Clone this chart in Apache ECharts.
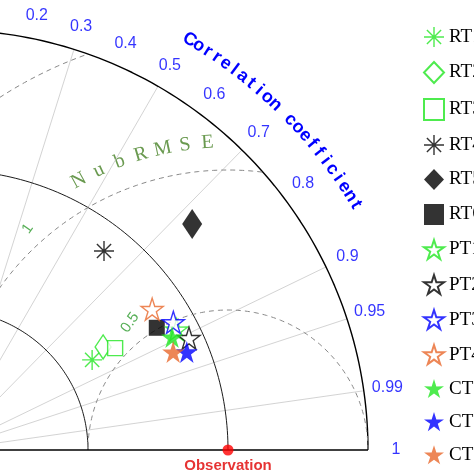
<!DOCTYPE html>
<html>
<head>
<meta charset="utf-8">
<title>Taylor diagram</title>
<script src="https://cdn.jsdelivr.net/npm/echarts@6/dist/echarts.min.js"></script>
<style>html,body{margin:0;padding:0;background:#fff}</style>
</head>
<body>
<div id="main" style="width:474px;height:474px;"></div>
<script type="text/javascript">
// model names (legend text, cut off at right edge in the source picture)
var names = ['RT1', 'RT2', 'RT3', 'RT4', 'RT5', 'RT6', 'PT1', 'PT2', 'PT3', 'PT4', 'CT1', 'CT2', 'CT3'];
// normalised standard deviation and correlation of each model
var stdDev = [0.607, 0.665, 0.699, 0.903, 1.188, 0.864, 0.923, 0.949, 0.925, 0.886, 0.896, 0.922, 0.877];
var corr   = [0.848, 0.833, 0.854, 0.617, 0.734, 0.863, 0.885, 0.907, 0.870, 0.823, 0.893, 0.925, 0.917];
var corrTicks = [0.2, 0.3, 0.4, 0.5, 0.6, 0.7, 0.8, 0.9, 0.95, 0.99, 1];
var corrLines = [0.1, 0.3, 0.5, 0.7, 0.9, 0.95, 0.99];
var stdArcs = [0.5, 1.0, 1.5];
var rmseArcs = [0.5, 1.0, 1.5];
var rmseLabels = ['0.5', '1'];

var star = 'path://M0,-10L2.23,-3.07L9.51,-3.09L3.61,1.17L5.88,8.09L0,3.8L-5.88,8.09L-3.61,1.17L-9.51,-3.09L-2.23,-3.07Z';
var aster = 'path://M-0.7,-10L0.7,-10L0.7,10L-0.7,10ZM-10,-0.7L10,-0.7L10,0.7L-10,0.7ZM-6.6,-7.6L7.6,6.6L6.6,7.6L-7.6,-6.6ZM6.6,-7.6L7.6,-6.6L-6.6,7.6L-7.6,6.6Z';
var green = '#22e622', blue = '#0000ff', orange = '#e8682c';
var styles = [
    [aster, green, true, 20], ['diamond', green, false, [16, 24]], ['rect', green, false, 15],
    [aster, '#000', true, 20], ['diamond', '#000', true, [20, 30]], ['rect', '#000', true, 16],
    [star, green, false, 22], [star, '#000', false, 22], [star, blue, false, 22], [star, orange, false, 22],
    [star, green, true, 22], [star, blue, true, 22], [star, orange, true, 22]
];

var myChart = echarts.init(document.getElementById('main'));
var series = [];

function polar(r, c) { return [r * c, r * Math.sqrt(1 - c * c)]; }

// radial correlation lines
corrLines.forEach(function (c) {
    series.push({type: 'line', silent: true, symbol: 'none', data: [[0, 0], polar(1.5, c)],
        lineStyle: {color: '#c8c8c8', width: 0.8}});
});
// std arcs
stdArcs.forEach(function (r) {
    var pts = [];
    for (var a = 0; a <= 90; a += 1) pts.push([r * Math.cos(a * Math.PI / 180), r * Math.sin(a * Math.PI / 180)]);
    series.push({type: 'line', silent: true, symbol: 'none', data: pts,
        lineStyle: {color: '#000', width: r === 1.5 ? 1.4 : 0.9}});
});
// centred RMSE arcs around observation (1,0)
rmseArcs.forEach(function (r) {
    var pts = [];
    for (var a = 0; a <= 180; a += 1) {
        var x = 1 + r * Math.cos(a * Math.PI / 180), y = r * Math.sin(a * Math.PI / 180);
        if (x * x + y * y <= 2.25 + 1e-6) pts.push([x, y]);
    }
    series.push({type: 'line', silent: true, symbol: 'none', data: pts,
        lineStyle: {color: '#888', width: 1, type: [5, 4]}});
});
// baseline
series.push({type: 'line', silent: true, symbol: 'none', data: [[0, 0], [1.5, 0]], lineStyle: {color: '#000', width: 1.4}});
// correlation tick labels
series.push({type: 'scatter', silent: true, symbolSize: 0,
    data: corrTicks.map(function (c) { var p = polar(c === 1 ? 1.6 : 1.585, c); return {value: p, name: String(c)}; }),
    label: {show: true, formatter: '{b}', color: blue, fontSize: 16, fontFamily: 'Arial', position: 'inside'}});
// RMSE labels
series.push({type: 'scatter', silent: true, symbolSize: 0,
    data: [{value: [0.65, 0.455], name: rmseLabels[0]}, {value: [0.285, 0.79], name: rmseLabels[1]}],
    label: {show: true, formatter: '{b}', color: '#2a9a2a', fontSize: 15, fontFamily: 'Arial', position: 'inside', rotate: 55}});
// observation
series.push({type: 'scatter', silent: true, symbolSize: 11, data: [[1, 0]], itemStyle: {color: '#ff0000'}, z: 5,
    label: {show: true, formatter: 'Observation', position: 'bottom', distance: 3, color: '#e00000', fontWeight: 'bold', fontSize: 15, fontFamily: 'Arial'}});
// models
names.forEach(function (n, i) {
    var s = styles[i];
    series.push({type: 'scatter', name: n, symbol: s[0], symbolSize: s[3], z: 4,
        data: [polar(stdDev[i], corr[i])],
        itemStyle: {color: s[2] ? s[1] : '#fff', borderColor: s[1], borderWidth: s[2] ? 0 : 1.4}});
});

var option = {
    animation: false,
    grid: {left: 0, top: 0, width: 474, height: 474},
    xAxis: {type: 'value', min: 52 / 280, max: 526 / 280, show: false},
    yAxis: {type: 'value', min: -24 / 280, max: 450 / 280, show: false},
    legend: {orient: 'vertical', left: 418, top: 22, itemGap: 14, itemWidth: 20, itemHeight: 21,
        data: names, textStyle: {fontFamily: 'Liberation Serif', fontSize: 19, color: '#000'}},
    series: series
};
myChart.setOption(option);

// curved texts
var graphics = [];
function arcText(str, r, a0, a1, color, font) {
    for (var i = 0; i < str.length; i++) {
        var a = (a0 + (a1 - a0) * i / (str.length - 1)) * Math.PI / 180;
        var p = myChart.convertToPixel({gridIndex: 0}, [r * Math.cos(a), r * Math.sin(a)]);
        graphics.push({type: 'text', x: p[0], y: p[1], rotation: a - Math.PI / 2,
            style: {text: str[i], fill: color, font: font, align: 'center', verticalAlign: 'middle'}});
    }
}
arcText('Correlation coefficient', 1.70, 59.5, 31, blue, 'bold 18px Arial');
// NubRMSE along the 1.0 RMSE arc (centred at observation)
(function () {
    var str = 'NubRMSE';
    for (var i = 0; i < str.length; i++) {
        var t = (119 - i * 4.2) * Math.PI / 180, r = 1.1;
        var p = myChart.convertToPixel({gridIndex: 0}, [1 + r * Math.cos(t), r * Math.sin(t)]);
        graphics.push({type: 'text', x: p[0], y: p[1], rotation: t - Math.PI / 2,
            style: {text: str[i], fill: '#6a9a50', font: '20px Liberation Serif', align: 'center', verticalAlign: 'middle'}});
    }
})();
myChart.setOption({graphic: graphics});
</script>
</body>
</html>
